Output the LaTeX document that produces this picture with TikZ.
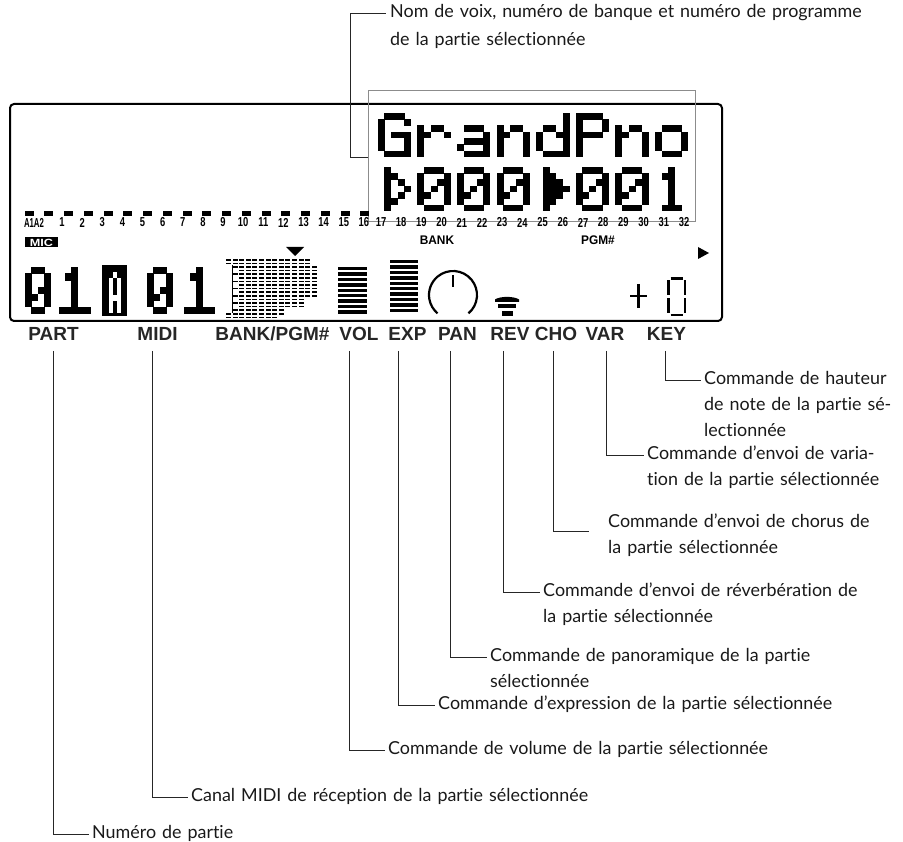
\documentclass[tikz,border=0pt]{standalone}
\usepackage{fontspec}
\setmainfont{Lato}[Ligatures=NoCommon]
\newfontfamily\labfont{Liberation Sans}
\usetikzlibrary{calc}

\def\gG{{1,2,3},{0,4},{0},{0,2,3,4},{0,4},{0,4},{1,2,3,4}}
\def\gr{{9},{9},{0,2,3},{0,1,4},{0},{0},{0}}
\def\ga{{9},{9},{1,2,3},{4},{1,2,3,4},{0,4},{1,2,3,4}}
\def\gn{{9},{9},{0,2,3},{0,1,4},{0,4},{0,4},{0,4}}
\def\gd{{4},{4},{1,2,4},{0,3,4},{0,4},{0,4},{1,2,3,4}}
\def\gP{{0,1,2,3},{0,4},{0,4},{0,1,2,3},{0},{0},{0}}
\def\go{{9},{9},{1,2,3},{0,4},{0,4},{0,4},{1,2,3}}
\def\gzero{{1,2,3},{0,4},{0,3,4},{0,2,4},{0,1,4},{0,4},{1,2,3}}
\def\gone{{2},{1,2},{2},{2},{2},{2},{1,2,3}}
\def\gtro{{1},{1,2},{1,3},{1,4},{1,3},{1,2},{1}}
\def\gtrf{{1},{1,2},{1,2,3},{1,2,3,4},{1,2,3},{1,2},{1}}
\def\Gzero{{1,2},{0,3},{0,3},{0,2,3},{0,1,3},{0,3},{1,2}}
\def\Gone{{2},{1,2},{2},{2},{2},{2},{0,1,2,3,4}}
\def\GA{{1},{0,2},{0,2},{0,2},{0,1,2},{0,2},{0,2}}

\newcommand\lcdglyph[7][black]{%
  \foreach \row [count=\j from 0] in #6 {%
    \foreach \c in \row {%
      \ifnum\c<9 \fill[#1] ({#2+\c*#4-#7},{#3+\j*#5-#7}) rectangle ++({#4+2*#7},{#5+2*#7});\fi
    }}}
\newcommand\annfont{\fontsize{17.9}{26}\selectfont}
\newcommand\cnum[1]{\scalebox{0.72}[1]{#1}}

\tikzset{
  lead/.style={draw=black!85, line width=0.9pt},
  ann/.style={inner sep=0pt, anchor=base west, text width=#1, align=left, font=\annfont, text=black!90},
  ann/.default=520pt,
  blab/.style={inner sep=0pt, font=\labfont\bfseries\fontsize{19}{20}\selectfont, text=black!85},
  chn/.style={inner sep=0pt, font=\labfont\bfseries\fontsize{13}{13}\selectfont},
  small/.style={inner sep=0pt, font=\labfont\bfseries\fontsize{12.5}{13}\selectfont}
}

\begin{document}
\begin{tikzpicture}[x=1pt,y=-1pt]
\useasboundingbox (0,0) rectangle (903,842);

% LCD frame
\draw[line width=2pt, rounded corners=4pt] (10,104) rectangle (722,321);
% selection box
\draw[draw=black!45, line width=0.8pt] (368,90) rectangle (695,221);
\coordinate (selL) at (368,157);

% GrandPno
\lcdglyph{378+0*39.6}{113}{6.6}{6.3}{\gG}{0.25}
\lcdglyph{378+1*39.6}{113}{6.6}{6.3}{\gr}{0.25}
\lcdglyph{378+2*39.6}{113}{6.6}{6.3}{\ga}{0.25}
\lcdglyph{378+3*39.6}{113}{6.6}{6.3}{\gn}{0.25}
\lcdglyph{378+4*39.6}{113}{6.6}{6.3}{\gd}{0.25}
\lcdglyph{378+5*39.6}{113}{6.6}{6.3}{\gP}{0.25}
\lcdglyph{378+6*39.6}{113}{6.6}{6.3}{\gn}{0.25}
\lcdglyph{378+7*39.6}{113}{6.6}{6.3}{\go}{0.25}
% second row
\lcdglyph{378+0*39.6}{167}{6.6}{6.3}{\gtro}{0.25}
\lcdglyph{378+1*39.6}{167}{6.6}{6.3}{\gzero}{0.25}
\lcdglyph{378+2*39.6}{167}{6.6}{6.3}{\gzero}{0.25}
\lcdglyph{378+3*39.6}{167}{6.6}{6.3}{\gzero}{0.25}
\lcdglyph{378+4*39.6}{167}{6.6}{6.3}{\gtrf}{0.25}
\lcdglyph{378+5*39.6}{167}{6.6}{6.3}{\gzero}{0.25}
\lcdglyph{378+6*39.6}{167}{6.6}{6.3}{\gzero}{0.25}
\lcdglyph{378+7*39.6}{167}{6.6}{6.3}{\gone}{0.25}

% channel dashes
\foreach \k in {0,...,17} {\fill (24.6+\k*19.75,211.5) rectangle ++(9,4.8);}
% channel numbers
\node[chn] (nA) at (34,222.5) {\scalebox{0.6}[1]{A1A2}};
\foreach \n in {1,...,16} {\node[chn] at ({62+(\n-1)*20.13},222.5) {\cnum{\n}};}
\foreach \n in {17,...,32} {\node[chn] at ({381+(\n-17)*20.2},222.5) {\cnum{\n}};}
\node[small] (bank) at (437,240) {\scalebox{0.95}[1]{BANK}};
\node[small] (pgm) at (598,240) {\scalebox{0.95}[1]{PGM\#}};
\node[fill=black, text=white, inner sep=0pt, minimum width=33pt, minimum height=10pt, font=\labfont\bfseries\fontsize{11}{11}\selectfont] (mic) at (41.5,242.5) {\scalebox{1.15}[0.95]{MIC}};

% right triangle
\fill (698,247) -- (709,253) -- (698,259) -- cycle;
% down triangle
\fill (286,247) -- (304,247) -- (295,256) -- cycle;

% big digits 01A01
\lcdglyph{25}{267}{6.5}{6.7}{\Gzero}{0.25}
\lcdglyph{59}{267}{6.3}{6.7}{\Gone}{0.25}
\fill (102,265) rectangle (127,316);
\lcdglyph[white]{108.5}{272}{4}{5.8}{\GA}{0}
\lcdglyph{147}{267}{6.5}{6.7}{\Gzero}{0.25}
\lcdglyph{184}{267}{6.1}{6.7}{\Gone}{0.25}

% BANK/PGM dot grid
\foreach \j/\n in {0/12,1/12,15/8,16/7} {
  \foreach \i in {0,...,\n} {\fill (226+\i*6.6,259+\j*3.6) rectangle ++(5,1.7);}}
\foreach \j/\n in {2/13,3/13,4/13,5/13,6/13,7/13,8/13,9/13,10/13,11/11,12/11,13/11,14/8} {
  \foreach \i in {2,...,\n} {\fill (226+\i*6.6,259+\j*3.6) rectangle ++(5,1.7);}}
\draw[line width=1.3pt] (232.5,265.5) -- (232.5,313);
\foreach \j in {2,4,...,14} {\fill (233,259+\j*3.6) rectangle ++(4.5,1.7);}

% VOL bars
\foreach \k in {0,...,8} {\fill (338,267+\k*5.4) rectangle ++(29,3.5);}
% EXP bars
\foreach \k in {0,...,9} {\fill (390,260+\k*5.4) rectangle ++(28,3.5);}
% PAN knob
\draw[line width=2.2pt] ($(453,295)+(50:24)$) arc[start angle=50, end angle=-230, radius=24];
\draw[line width=2pt] (453,275) -- (453,287);
% REV icon
\fill (495,302) -- (495,299.5) .. controls (500,296) and (514,296) .. (519,299.5) -- (519,302) -- cycle;
\fill (498,304.5) rectangle (516,308.5);
\fill (501.5,311.5) rectangle (513,316);
% + and 7-seg zero
\draw[line width=2.4pt] (630,296) -- (647,296) (638.5,284) -- (638.5,308);
\draw[line width=2.2pt] (670.5,278.5)--(683,278.5) (668.5,280.5)--(668.5,295.5) (668.5,298.5)--(668.5,313)
  (670.5,314.8)--(683,314.8) (685,280.5)--(685,295.5) (685,298.5)--(685,313);

% bottom labels
\node[blab] (lPART) at (53.5,334) {PART};
\node[blab] (lMIDI) at (157.5,334) {MIDI};
\node[blab] (lBANK) at (272.5,334) {BANK/PGM\#};
\node[blab] (lVOL) at (359,334) {VOL};
\node[blab] (lEXP) at (407.5,334) {EXP};
\node[blab] (lPAN) at (457.5,334) {PAN};
\node[blab] (lREV) at (510,334) {REV};
\node[blab] (lCHO) at (556,334) {CHO};
\node[blab] (lVAR) at (605,334) {VAR};
\node[blab] (lKEY) at (666.5,334) {KEY};

\coordinate (sPART) at (53,351);
\coordinate (sMIDI) at (152,351);
\coordinate (sVOL) at (349,351);
\coordinate (sEXP) at (398,351);
\coordinate (sPAN) at (450,351);
\coordinate (sREV) at (503,351);
\coordinate (sCHO) at (553,351);
\coordinate (sVAR) at (606,351);
\coordinate (sKEY) at (665,351);

% annotations
\node[ann] (tTop) at (390,18) {Nom de voix, numéro de banque et numéro de programme\\[2pt]de la partie sélectionnée};
\node[ann=200pt] (tKey) at (704,384.5) {\makebox[196pt][s]{Commande de hauteur}\\\makebox[196pt][s]{de note de la partie sé-}\\lectionnée};
\node[ann] (tVar) at (647,459.5) {\makebox[246pt][s]{Commande d’envoi de varia-}\\tion de la partie sélectionnée};
\node[ann] (tCho) at (608,527.5) {\makebox[275pt][s]{Commande d’envoi de chorus de}\\la partie sélectionnée};
\node[ann] (tRev) at (543,596.5) {\makebox[322pt][s]{Commande d’envoi de réverbération de}\\la partie sélectionnée};
\node[ann] (tPan) at (490,661.5) {\makebox[338pt][s]{Commande de panoramique de la partie}\\sélectionnée};
\node[ann] (tExp) at (438,709.5) {Commande d’expression de la partie sélectionnée};
\node[ann] (tVol) at (388,754.5) {Commande de volume de la partie sélectionnée};
\node[ann] (tMidi) at (191,801.5) {Canal MIDI de réception de la partie sélectionnée};
\node[ann] (tPart) at (92,838.5) {Numéro de partie};
\coordinate (eCHO) at (589,531);

% leaders
\draw[lead] (selL) -- ++(-18,0) |- ([shift={(-4pt,4.5pt)}]tTop.base west);
\draw[lead] (sKEY) |- ([shift={(-3pt,4.5pt)}]tKey.base west);
\draw[lead] (sVAR) |- ([shift={(-3pt,4.5pt)}]tVar.base west);
\draw[lead] (sCHO) |- (eCHO);
\draw[lead] (sREV) |- ([shift={(-3pt,4.5pt)}]tRev.base west);
\draw[lead] (sPAN) |- ([shift={(-3pt,4.5pt)}]tPan.base west);
\draw[lead] (sEXP) |- ([shift={(-3pt,4.5pt)}]tExp.base west);
\draw[lead] (sVOL) |- ([shift={(-3pt,4.5pt)}]tVol.base west);
\draw[lead] (sMIDI) |- ([shift={(-3pt,4.5pt)}]tMidi.base west);
\draw[lead] (sPART) |- ([shift={(-3pt,4.5pt)}]tPart.base west);
\end{tikzpicture}
\end{document}
